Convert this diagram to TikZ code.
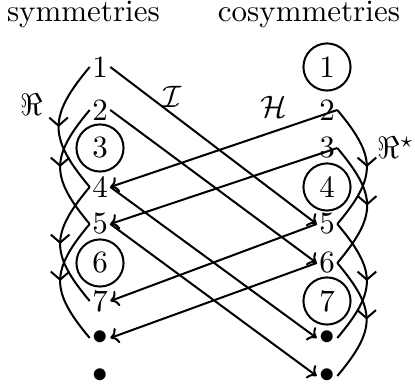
\documentclass[tikz,border=0pt]{standalone}
\usetikzlibrary{arrows.meta,decorations.markings}
\begin{document}
\begin{tikzpicture}[x=0.3226pt,y=0.3226pt,line width=0.65pt,
  num/.style={inner sep=0.5pt},
  cnum/.style={circle,draw,inner sep=0pt,minimum size=15.2pt},
  headarrow/.style={-{Computer Modern Rightarrow[length=2.6pt,width=5.2pt]}},
  midarrow/.style={postaction={decorate},decoration={markings,mark=at position 0.5 with {\arrow{Straight Barb[length=2.6pt,width=6pt]}}}},
  lefty/.style={out=-130,in=130,looseness=1.38},
  righty/.style={out=-50,in=50,looseness=1.38}]
\useasboundingbox (0,0) rectangle (415,-390);
% column titles
\node[anchor=base west,inner sep=0] (tS) at (6,-22) {symmetries};
\node[anchor=base east,inner sep=0] (tC) at (401,-22) {cosymmetries};
% left column
\node[num]  (L1) at (100,-67)  {1};
\node[num]  (L2) at (100,-110) {2};
\node[cnum] (L3) at (100,-148) {3};
\node[num]  (L4) at (100,-187) {4};
\node[num]  (L5) at (100,-224) {5};
\node[cnum] (L6) at (100,-263) {6};
\node[num]  (L7) at (100,-301) {7};
\node[num]  (L8) at (100,-338) {$\bullet$};
\node[num]  (L9) at (100,-376) {$\bullet$};
% right column
\node[cnum] (R1) at (327,-67)  {1};
\node[num]  (R2) at (327,-110) {2};
\node[num]  (R3) at (327,-148) {3};
\node[cnum] (R4) at (327,-187) {4};
\node[num]  (R5) at (327,-224) {5};
\node[num]  (R6) at (327,-263) {6};
\node[cnum] (R7) at (327,-301) {7};
\node[num]  (R8) at (327,-338) {$\bullet$};
\node[num]  (R9) at (327,-376) {$\bullet$};
% labels
\node (lRe)  at (32,-105)  {$\Re$};
\node (lI)   at (172,-97)  {$\mathcal{I}$};
\node (lH)   at (274,-107) {$\mathcal{H}$};
\node (lRes) at (396,-148) {$\Re^\star$};
% left curves
\draw[midarrow] (L1.west) to[lefty] (L4.west);
\draw[midarrow] (L2.west) to[lefty] (L5.west);
\draw[midarrow] (L4.west) to[lefty] (L7.west);
\draw[midarrow] (L5.west) to[lefty] (L8.west);
% right curves
\draw[midarrow] (R2.east) to[righty] (R5.east);
\draw[midarrow] (R3.east) to[righty] (R6.east);
\draw[midarrow] (R5.east) to[righty] (R8.east);
\draw[midarrow] (R6.east) to[righty] (R9.east);
% I arrows
\draw[headarrow] (L1.east) -- (R5.west);
\draw[headarrow] (L2.east) -- (R6.west);
\draw[headarrow] (L4.east) -- (R8.west);
\draw[headarrow] (L5.east) -- (R9.west);
% H arrows
\draw[headarrow] (R2.east) -- (L4.east);
\draw[headarrow] (R3.east) -- (L5.east);
\draw[headarrow] (R5.west) -- (L7.east);
\draw[headarrow] (R6.west) -- (L8.east);
\end{tikzpicture}
\end{document}
